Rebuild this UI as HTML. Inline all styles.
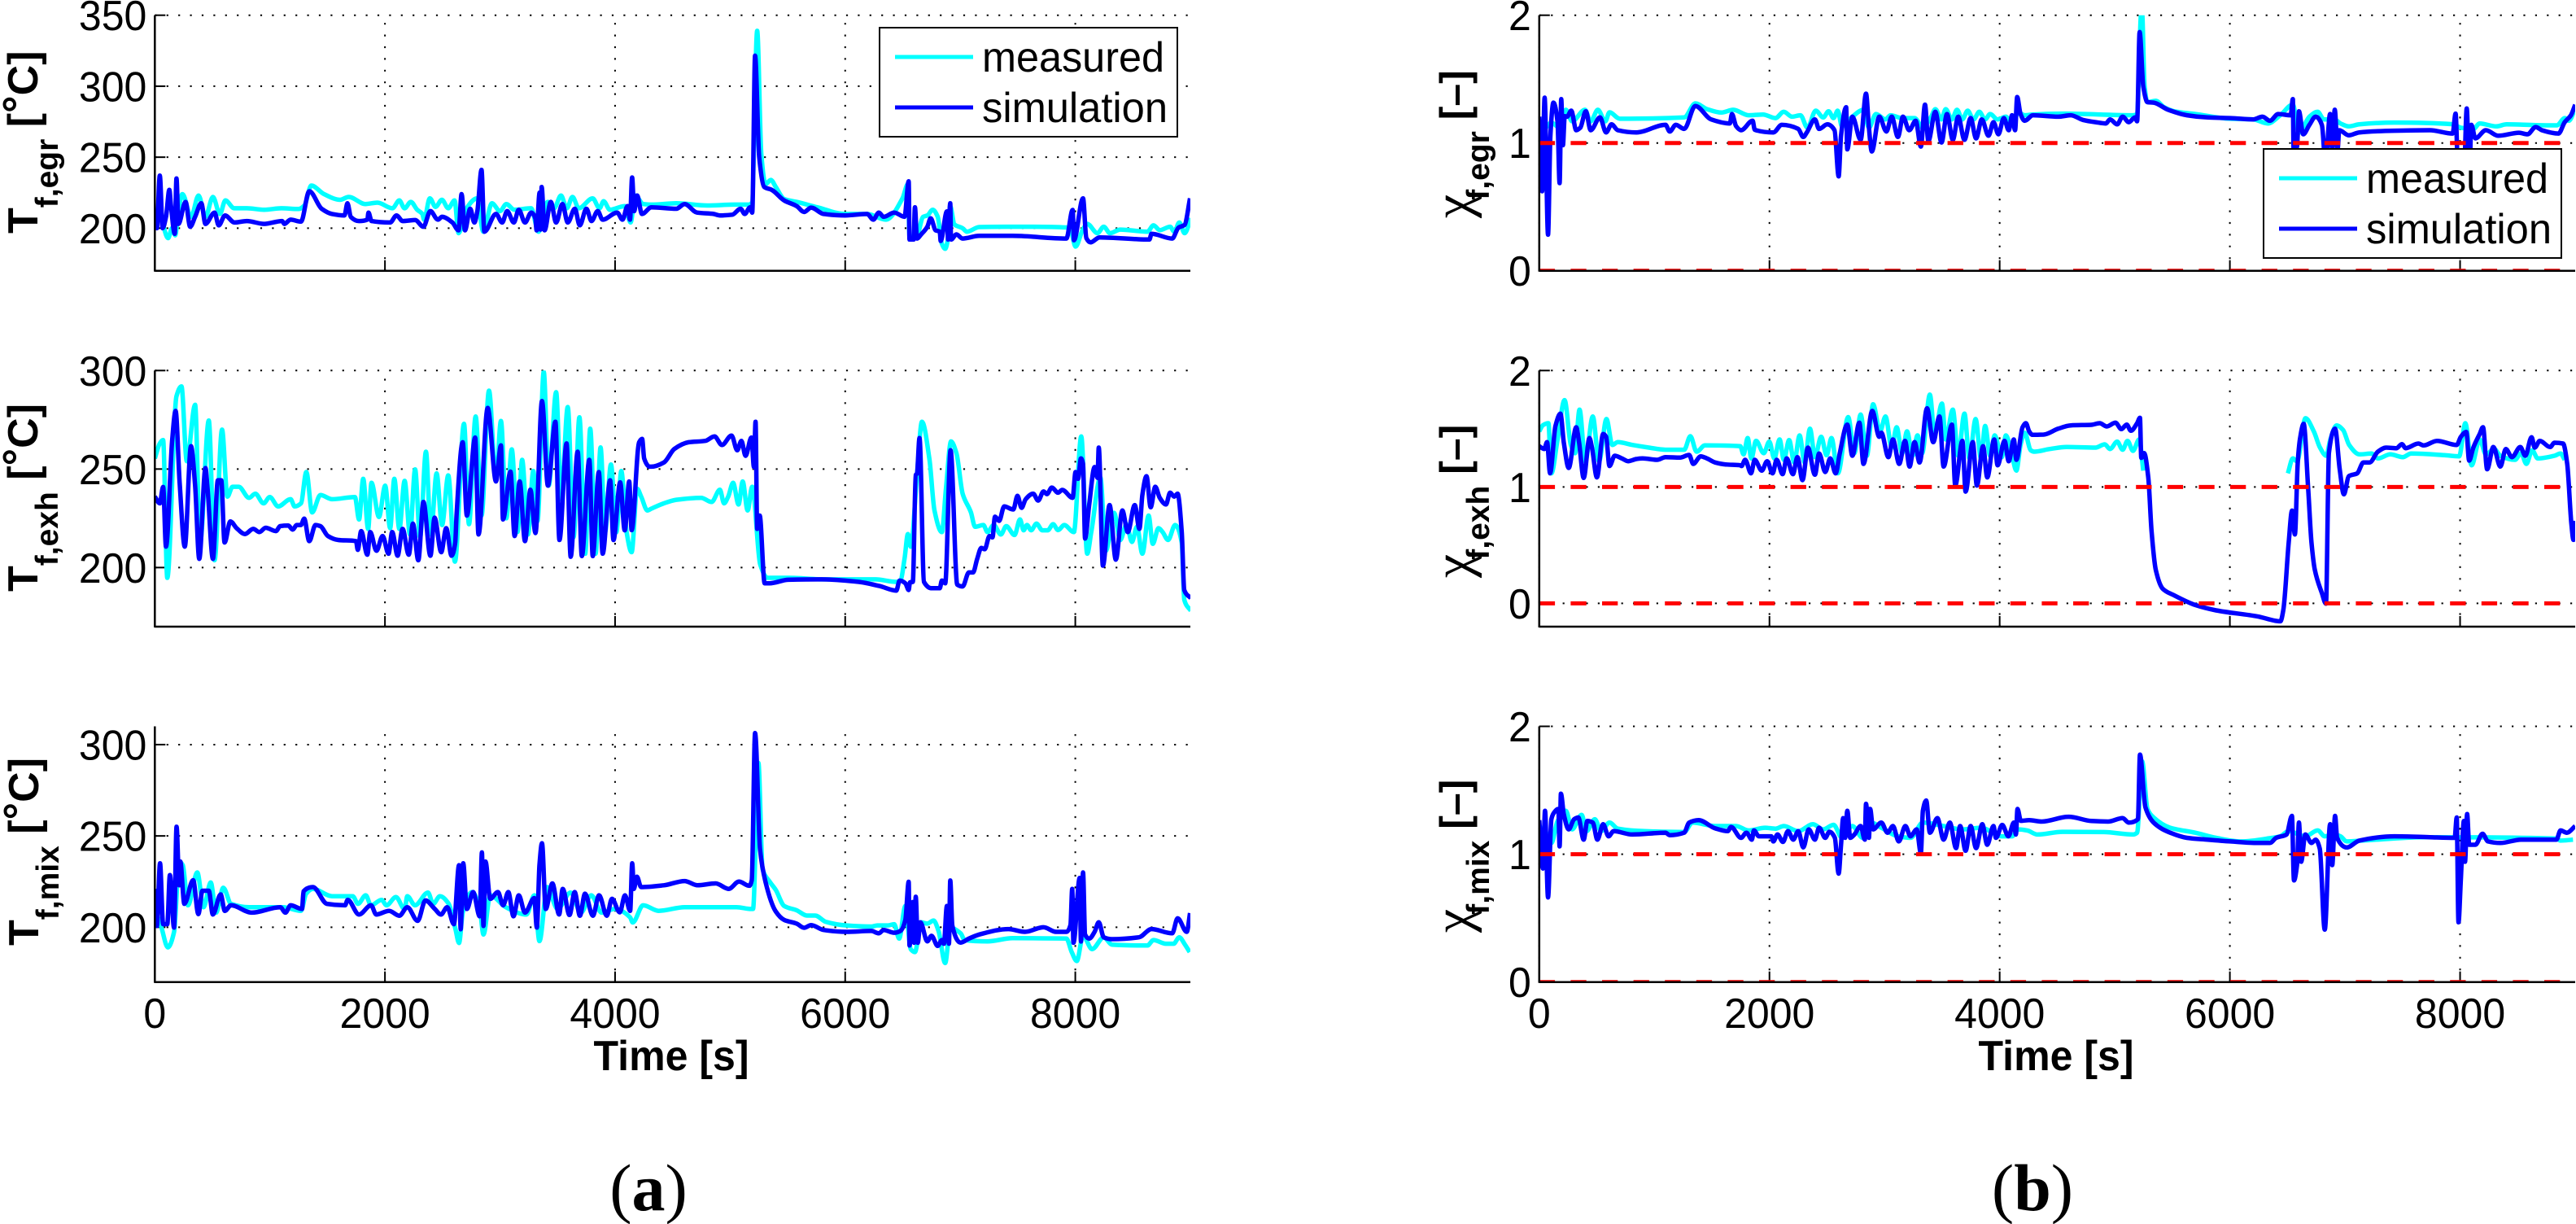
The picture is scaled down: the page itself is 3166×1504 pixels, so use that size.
<!DOCTYPE html>
<html lang="en">
<head>
<meta charset="utf-8">
<title>Measured vs simulation: temperature and conversion ratio</title>
<style>
html,body{margin:0;padding:0;background:#fff;}
svg{display:block;}
text{fill:#000;font-family:"Liberation Sans",sans-serif;}
</style>
</head>
<body>
<svg id="chart" xmlns="http://www.w3.org/2000/svg" width="3166" height="1504" viewBox="0 0 3166 1504"></svg>
<script>
const xTicks = [0,2000,4000,6000,8000];
const xTickLabels = ['0','2000','4000','6000','8000'];
const tempEgrTicks = [200,250,300,350];
const tempExhTicks = [200,250,300];
const tempMixTicks = [200,250,300];
const chiTicks = [0,1,2];
const legendLabels = ['measured','simulation'];
const chiReferenceLevels = [0,1];

const egrTempMeasuredTime = [
0,18,60,115,150,177,205,240,315,380,
440,505,565,613,690,800,950,1100,1250,1300,
1360,1470,1610,1685,1830,1935,2065,2125,2170,2225,
2280,2325,2340,2390,2440,2495,2550,2605,2640,2710,
2800,2855,2930,3000,3055,3125,3270,3335,3415,3470,
3530,3580,3630,3685,3805,3865,3900,3955,4085,4135,
4175,4245,4316,4532,4800,5037,5163,5190,5235,5271,
5307,5354,5397,5470,5578,5758,6000,6190,6353,6498,
6545,6560,6624,6678,6715,6761,6804,6840,6869,6894,
6912,6949,7020,7057,7165,7400,7600,7922,7965,8002,
8065,8103,8193,8247,8301,8391,8626,8680,8734,8824,
8860,8904,8950,9005];
const egrTempMeasuredValue = [
205,212,205,193,200,195,212,224,208,223,
208,222,210,219.5,214,214,213,214,213.5,216,
230,224,220,222,217,218,214,219.5,214,218.5,
213,210,206,221,215,220,214,219.5,196.5,214,
221,197.5,217.5,212,217,213,214,197.5,218.5,214,
223,214,222,214,221,214,219,213,215.6,204,
223,217,216.6,217.5,216,216.6,216.6,218,339,252,
231,234,229,220.5,218.5,214.7,210,210,206,221,
231,193,195,208,209,213,208,189,185.5,193,
215.6,202.7,200,197.5,200.8,201,201,200.5,197,187,
199,203,196.5,201,196.5,199,197.5,202,198.6,201,
197.5,204,196.5,207];

const egrTempSimTime = [
0,18,43,68,97,126,140,173,188,205,
267,307,350,404,440,519,555,610,692,800,
950,1107,1125,1180,1270,1342,1450,1540,1648,1674,
1703,1775,1847,1857,1883,2045,2100,2154,2262,2334,
2395,2460,2496,2586,2640,2666,2695,2741,2777,2803,
2839,2864,2965,3019,3062,3120,3163,3217,3271,3307,
3318,3344,3352,3362,3387,3441,3488,3542,3589,3650,
3693,3751,3795,3849,3892,4018,4065,4108,4130,4148,
4166,4191,4234,4316,4532,4604,4712,4857,4911,5019,
5091,5127,5174,5192,5217,5253,5297,5362,5470,5578,
5643,5704,5812,6000,6190,6245,6292,6335,6426,6516,
6552,6559,6595,6606,6624,6660,6714,6743,6786,6822,
6830,6884,6894,6913,6920,6967,7020,7165,7454,7922,
7977,7988,8067,8096,8132,8211,8644,8662,8842,8897,
8950,8997];
const egrTempSimValue = [
208,200,237,200,208,227,216,196,235,203,
218.5,201,208,217.6,203,211,202,209,204,205,
203,205,203,206,204.6,226,213.7,210,209,217.5,
208,205,206,211,205,204,209,205,205.7,201,
212,206,208,204,198.5,224,198.5,213.7,204,212,
241,197.5,210,204,212,204,213,204,211,207,
198.5,225,199,229,198.5,218.5,204,217,204,213.7,
202,213.7,205,212,206,211,206,215.6,206,235.7,
212,223,210,214.7,213.7,217,211,210,209,209.5,
213.7,210,214.7,211,321.5,250,229,227,219.5,215.6,
211.4,214.5,210,209,210,206,211,208,211,208,
233,192,192,214.7,192.7,195.6,201,207,198.5,197.5,
191,211.8,192,217.5,192,195.6,192.7,194.6,194.6,192.7,
212.8,191.5,221,193,190,193.5,192,196,192.7,200.4,
202.3,221];

const exhTempMeasuredTime = [
0,43,72,108,188,231,278,350,393,469,
519,584,631,675,729,819,873,945,999,1071,
1180,1215,1270,1317,1367,1439,1540,1739,1775,1811,
1854,1883,1948,2002,2045,2081,2125,2171,2218,2262,
2305,2356,2399,2449,2496,2550,2608,2687,2730,2788,
2839,2904,2965,3008,3055,3102,3152,3192,3243,3289,
3326,3380,3423,3488,3531,3589,3639,3690,3740,3784,
3831,3874,3913,3964,4011,4054,4100,4144,4191,4227,
4281,4316,4424,4532,4748,4839,4911,4947,4983,5026,
5073,5109,5152,5192,5261,5325,5506,5830,6263,6444,
6480,6516,6545,6570,6624,6667,6732,6776,6840,6876,
6920,6967,7021,7093,7129,7201,7237,7291,7353,7400,
7472,7519,7551,7580,7616,7663,7713,7760,7807,7850,
7904,7987,8052,8103,8139,8218,8265,8337,8391,8445,
8492,8536,8583,8637,8673,8723,8759,8806,8868,8925,
8947,9005];
const exhTempMeasuredValue = [
255.4,263,264.7,194.8,287,292,254,282.6,212.7,274.6,
203.7,270,236,241,241,235.4,237.5,232.6,235.8,231,
234.7,231,232.6,248.5,228,236.8,234.7,235.8,224.4,245,
219.6,243,225.7,241.6,220,245,219.6,244,216.8,249.8,
215.4,258.8,216.8,247.8,221.6,246.8,203,273,222,276.7,
226.4,289.8,244,274.4,225,260,218,254.7,216.8,249,
223.7,299.4,241.6,289,234.7,281.5,215.4,276.3,207,270.5,
207,261,218,252.3,218,249,218,207.8,240,236,
229,229.9,232.6,234.4,235.4,233.3,239.5,232.6,236,243,
232,243.7,229,241,201.6,194.8,194.8,194,194,192.7,
193.4,204.4,217,210.6,247,274,255,229,218,240,
264,258,237.5,228,220.7,221.6,218,221.6,216.8,221,
216.5,224.4,218.9,221.6,218.9,222.3,218.9,218.9,222,219,
221.6,218,266.6,207,218,245.7,208.5,227.8,214,222,
213,220.7,207,226.4,212,220,218,214,221.6,212.7,
183.7,178];

const exhTempSimTime = [
0,43,72,97,151,180,216,260,314,350,
386,440,458,505,548,577,606,656,711,783,
855,909,963,1053,1089,1160,1198,1234,1270,1298,
1342,1396,1439,1504,1594,1749,1764,1793,1847,1872,
1926,1980,2031,2063,2110,2153,2207,2243,2290,2334,
2395,2431,2489,2532,2579,2611,2622,2676,2712,2784,
2813,2893,2965,3008,3026,3091,3127,3171,3217,3264,
3308,3365,3416,3481,3517,3578,3614,3675,3711,3776,
3806,3859,3892,3957,3986,4044,4084,4123,4144,4209,
4235,4253,4300,4316,4424,4515,4640,4784,4864,4929,
5012,5062,5098,5134,5185,5207,5221,5235,5257,5300,
5343,5506,5794,6119,6299,6444,6473,6523,6552,6563,
6588,6613,6624,6646,6685,6750,6822,6840,6869,6916,
6974,7021,7075,7111,7147,7183,7212,7255,7280,7302,
7338,7382,7461,7497,7533,7569,7634,7677,7724,7753,
7796,7850,7886,7977,8002,8024,8049,8067,8085,8121,
8168,8193,8204,8240,8298,8352,8409,8456,8517,8557,
8583,8619,8655,8695,8734,8788,8824,8860,8889,8925,
8947,9005];
const exhTempSimValue = [
236,232.6,240.9,210.6,265,279.5,243,210.6,261.6,241.6,
204.4,250.5,240,204.4,244.3,244.3,212.7,223.4,220,217,
219.6,218,220.2,218.5,221,221.3,219.3,221.6,221.6,224.8,
213.4,221.6,221,216,214,213.4,209,218.5,206.5,218,
208.5,216,207,218,206,219.6,206.5,222.3,203.7,233.3,
206,225.3,207.8,220,206,212.7,226.4,263.6,226.4,266,
216.8,281,243.7,262,224.4,248.7,216,243.7,213.4,239.5,
217.5,284.5,241.6,274,214,263,205.5,258.8,205.8,254.7,
205.8,248.5,207,244.3,214,243.2,218.9,243.7,219,263.6,
265.3,255.4,251.2,251.2,253.3,260.2,263.6,264.3,266.6,262.2,
267,259.5,264.3,256.7,266,251,274,219.6,226.4,192,
192,193.8,194,192.7,190.6,188.3,193.4,192,188.6,192.5,
192.7,247,247.7,265.7,192.7,189.5,189.5,193.4,192,259.5,
191.3,190.4,197.5,197.5,204.4,210,209.3,216,215.3,225.8,
223.7,231,229.5,236.4,230.3,234.7,237.5,234,238.6,237.3,
240.6,238,239.4,235.4,248.5,245,255.4,252.6,214.7,232,
251,245.5,260.9,201,231.7,204,229,218,231.7,219.6,
236.8,246.4,230.6,241,235.4,232,238,236,237.5,218,
188.6,184.4];

const mixTempMeasuredTime = [
0,54,113,167,212,243,288,369,423,486,
532,595,662,820,1113,1270,1315,1374,1540,1720,
1766,1833,1879,1970,2014,2095,2171,2194,2261,2374,
2419,2478,2554,2613,2644,2676,2757,2825,2856,2915,
3050,3230,3298,3343,3410,3500,3613,3703,3793,3883,
3996,4131,4153,4244,4379,4604,5055,5181,5199,5246,
5282,5343,5397,5470,5578,5668,5740,5830,6011,6227,
6280,6370,6426,6469,6523,6570,6606,6660,6714,6768,
6811,6869,6913,7003,7039,7237,7454,7922,7969,8013,
8067,8146,8247,8319,8626,8680,8788,8854,8904,8950,
8994];
const mixTempMeasuredValue = [
210,200.7,189,197.4,236,234,212,230,211,224.5,
208,221.6,212.8,211,211,209,218.4,221,217,217,
212.8,217.5,212,215,212,216.5,210,217,212,219,
212.8,217,212.8,198.9,191.4,208,219.3,210,196,217.5,
211,207,217.5,192.4,222,210,219,208,217.5,208,
210,205.4,202.6,212,209,211,211,210,210,290,
232,225,220.4,211.6,209.3,206.4,206.4,203,201,200.4,
201,201,201.7,193.8,211.6,187.9,186.4,202.7,202,203.7,
198,180.4,199.7,196.7,193,192.3,194,193.8,186.4,181.5,
195.3,188,194.5,190.5,190,193,191,191,194.5,190.8,
186.4];

const mixTempSimTime = [
0,18,45,72,108,131,167,189,212,221,
257,333,378,414,469,504,572,608,662,842,
1090,1135,1180,1279,1293,1374,1496,1653,1676,1775,
1879,1924,2036,2126,2194,2284,2352,2433,2487,2541,
2599,2644,2658,2680,2712,2766,2824,2843,2856,2874,
2915,2982,3027,3072,3117,3163,3217,3298,3320,3343,
3365,3397,3455,3514,3545,3604,3649,3694,3739,3807,
3861,3928,3973,4041,4086,4131,4149,4163,4190,4226,
4424,4604,4717,4874,4987,5077,5167,5188,5217,5260,
5307,5397,5470,5578,5643,5704,5812,6011,6227,6292,
6335,6426,6480,6523,6552,6559,6588,6599,6613,6631,
6653,6714,6750,6804,6840,6858,6884,6902,6913,6931,
7003,7075,7165,7418,7562,7724,7832,7922,7958,7973,
7984,8038,8049,8067,8085,8121,8168,8204,8247,8319,
8554,8662,8842,8889,8969,8997];
const mixTempSimValue = [
221,200.7,235,201.7,201.7,228.6,199.8,255,223,236,
212.8,225.8,207.2,220,220,207,218,209,212,208,
211,208,212,210,219.7,222,212.8,212,215,207,
212,207,209,206.3,211,203.5,214.7,210,207,211,
201.7,234,198.9,235,210,219.3,206,241,200.7,236,
215.6,219.3,212,219.3,206,217.5,208,216,199.8,234,
246,210,224,207,221,206.7,219.3,206.3,218.4,206.3,
217.5,206.3,215.6,208.2,217.5,209,235,221,227.7,222,
223,225.3,223,224,221,225,222.7,225.6,306.3,242.7,
224.9,208.6,204,202,199.7,201.2,198.5,197.5,198,196.7,
198.5,197,198,204,224.9,190,213.8,191.5,216.7,191.5,
202.7,192.3,195.3,189.8,193,191,211.6,191,225.6,201,
191.6,193.8,196,199,197.5,200,197.5,197.5,201.2,221,
191.5,227,192.2,230,196,193.8,197.5,202.7,194.5,193.5,
194.5,199,196.7,204.9,197.5,207.8];

const egrChiMeasuredTime = [
0,50,105,177,231,285,397,447,509,574,
610,700,1259,1356,1457,1583,1685,1818,1944,2052,
2124,2197,2269,2330,2402,2467,2514,2557,2593,2630,
2720,2817,2864,2925,3008,3052,3152,3261,3333,3405,
3441,3495,3531,3585,3629,3676,3722,3773,3823,3874,
3917,3982,4054,4108,4162,4217,4289,4545,5158,5194,
5230,5237,5259,5284,5356,5428,5518,5699,6000,6204,
6330,6438,6547,6600,6691,6763,6817,6907,6961,7033,
7124,7430,7935,8007,8116,8170,8314,8404,8657,8840,
8910,8945,9000];
const egrChiMeasuredValue = [
1.14,1.12,1.16,1.12,1.26,1.17,1.26,1.17,1.26,1.17,
1.24,1.19,1.2,1.31,1.265,1.238,1.26,1.217,1.223,1.195,
1.244,1.206,1.217,1.12,1.253,1.2,1.248,1.195,1.253,1.13,
1.206,1.26,1.12,1.227,1.185,1.217,1.195,1.195,1.12,1.206,
1.265,1.185,1.265,1.185,1.26,1.185,1.253,1.185,1.244,1.185,
1.227,1.185,1.206,1.14,1.238,1.217,1.223,1.23,1.217,1.227,
2.02,2.02,1.44,1.32,1.33,1.28,1.248,1.227,1.19,1.185,
1.153,1.217,1.3,1.08,1.206,1.244,1.185,1.185,1.153,1.13,
1.146,1.16,1.147,1.12,1.11,1.153,1.13,1.146,1.14,1.138,
1.195,1.174,1.27];

const egrChiSimTime = [
0,25,47,76,97,123,159,177,191,206,
221,242,278,321,357,404,447,527,581,628,
682,844,1097,1133,1187,1259,1356,1493,1656,1674,
1710,1753,1854,1872,2034,2107,2250,2294,2323,2395,
2431,2503,2565,2601,2622,2666,2676,2720,2792,2839,
2864,2889,2954,3016,3062,3116,3160,3214,3271,3315,
3351,3380,3441,3495,3542,3593,3640,3694,3748,3795,
3845,3903,3946,3989,4036,4079,4108,4134,4152,4181,
4217,4289,4509,4617,4725,4833,4923,4959,5021,5068,
5122,5176,5194,5216,5248,5284,5338,5464,5627,5807,
6005,6204,6283,6348,6420,6528,6547,6554,6583,6600,
6637,6691,6745,6799,6817,6824,6871,6889,6911,6936,
6950,7033,7124,7430,7737,7935,7961,7982,8033,8058,
8080,8098,8133,8224,8332,8512,8585,8657,8711,8855,
8909,8963,9000];
const egrChiSimValue = [
1.206,0.622,1.355,0.282,1.057,1.316,1.163,0.686,1.344,0.983,
1.21,1.206,1.253,1.1,1.12,1.248,1.1,1.2,1.083,1.146,
1.1,1.083,1.142,1.09,1.142,1.11,1.29,1.185,1.153,1.227,
1.132,1.1,1.174,1.104,1.083,1.142,1.11,1.047,1.08,1.185,
1.11,1.146,1.1,0.739,1.057,1.28,0.95,1.206,1.025,1.386,
1.12,0.934,1.206,1.09,1.206,1.047,1.206,1.1,1.174,0.972,
1.3,1.015,1.244,1.004,1.227,1.025,1.206,1.025,1.195,1.036,
1.185,1.057,1.163,1.068,1.195,1.1,1.217,1.1,1.36,1.227,
1.174,1.217,1.206,1.217,1.18,1.163,1.153,1.185,1.146,1.206,
1.163,1.2,1.17,1.868,1.44,1.32,1.316,1.26,1.217,1.2,
1.195,1.185,1.206,1.174,1.227,1.217,1.344,0.93,0.972,1.248,
1.068,1.142,1.206,1.142,0.95,0.739,1.227,0.95,1.26,0.95,
1.1,1.06,1.083,1.096,1.1,1.074,1.23,0.8,0.76,1.27,
0.74,1.142,1.036,1.1,1.057,1.08,1.068,1.125,1.1,1.074,
1.163,1.217,1.3];

const exhChiMeasuredTime = [
0,32,79,105,159,220,274,310,350,400,
465,519,584,635,682,808,952,1097,1259,1313,
1367,1439,1746,1775,1811,1843,1883,1951,1998,2042,
2088,2125,2171,2215,2262,2305,2352,2395,2449,2496,
2539,2594,2684,2738,2792,2846,2900,2961,3008,3062,
3105,3152,3195,3243,3286,3326,3394,3434,3499,3531,
3593,3640,3694,3737,3791,3838,3874,3917,3957,4018,
4054,4108,4145,4181,4217,4270,4299,4436,4580,4833,
4913,4959,5021,5068,5111,5158,5212,5248,5249,6504,
6547,6583,6657,6729,6783,6837,6873,6927,6983,7036,
7126,7232,7286,7394,7502,7575,7863,7992,8046,8100,
8170,8224,8296,8350,8477,8530,8576,8627,8674,8820,
8873,8909];
const exhChiMeasuredValue = [
1.478,1.53,1.548,1.117,1.408,1.746,1.361,1.29,1.664,1.22,
1.606,1.22,1.583,1.361,1.385,1.361,1.338,1.32,1.32,1.436,
1.303,1.357,1.35,1.28,1.42,1.245,1.396,1.29,1.39,1.245,
1.408,1.233,1.403,1.21,1.443,1.21,1.5,1.256,1.431,1.273,
1.42,1.117,1.6,1.29,1.622,1.268,1.71,1.478,1.606,1.338,
1.513,1.29,1.478,1.268,1.443,1.29,1.793,1.455,1.716,1.408,
1.664,1.268,1.63,1.245,1.583,1.245,1.524,1.268,1.443,1.256,
1.443,1.268,1.14,1.361,1.466,1.315,1.303,1.326,1.343,1.338,
1.366,1.326,1.39,1.32,1.396,1.31,1.408,1.14,null,1.117,
1.245,1.22,1.59,1.478,1.338,1.268,1.408,1.529,1.49,1.361,
1.28,1.287,1.245,1.28,1.256,1.287,1.273,1.263,1.548,1.186,
1.408,1.28,1.326,1.268,1.233,1.29,1.198,1.315,1.245,1.268,
1.287,1.233];

const exhChiSimTime = [
0,43,68,94,141,184,213,256,321,346,
386,436,458,501,555,581,610,656,718,772,
844,898,1024,1097,1223,1302,1338,1403,1457,1529,
1620,1746,1757,1789,1840,1872,1933,1980,2027,2063,
2114,2150,2204,2243,2287,2334,2395,2431,2485,2528,
2575,2611,2676,2720,2781,2817,2893,2954,2972,3033,
3073,3127,3178,3217,3261,3304,3369,3423,3477,3513,
3585,3614,3676,3704,3766,3802,3856,3892,3953,3982,
4043,4079,4123,4145,4199,4228,4256,4285,4382,4508,
4617,4797,4869,4931,5006,5057,5104,5140,5194,5219,
5230,5255,5291,5320,5356,5417,5518,5699,5880,6240,
6439,6464,6511,6540,6565,6590,6612,6641,6680,6709,
6738,6799,6835,6860,6914,6954,6990,7034,7106,7160,
7214,7286,7358,7448,7494,7527,7638,7683,7800,7971,
8007,8054,8079,8115,8170,8199,8235,8289,8350,8397,
8451,8523,8567,8621,8649,8692,8783,8820,8895,8931,
8967,8985,9003];
const exhChiSimValue = [
1.35,1.326,1.385,1.117,1.524,1.63,1.385,1.163,1.513,1.385,
1.077,1.42,1.338,1.082,1.455,1.431,1.18,1.268,1.245,1.221,
1.24,1.245,1.233,1.256,1.252,1.275,1.198,1.263,1.245,1.21,
1.193,1.186,1.18,1.233,1.117,1.233,1.14,1.221,1.117,1.233,
1.11,1.245,1.11,1.256,1.058,1.338,1.105,1.287,1.128,1.245,
1.117,1.291,1.536,1.268,1.552,1.198,1.653,1.431,1.466,1.256,
1.408,1.198,1.396,1.175,1.385,1.21,1.676,1.385,1.606,1.175,
1.536,1.012,1.396,0.96,1.385,1.012,1.35,1.082,1.408,1.186,
1.396,1.221,1.408,1.233,1.513,1.548,1.478,1.448,1.45,1.5,
1.529,1.534,1.548,1.52,1.552,1.497,1.536,1.483,1.548,1.594,
1.25,1.291,1.082,0.615,0.289,0.126,0.068,-0.014,-0.06,-0.112,
-0.154,-0.06,0.522,0.797,0.592,1.22,1.431,1.543,0.988,0.522,
0.289,0.09,-0.002,1.291,1.501,1.152,0.937,1.093,1.117,1.21,
1.21,1.303,1.338,1.333,1.368,1.333,1.373,1.357,1.396,1.361,
1.431,1.473,1.226,1.338,1.455,1.513,1.152,1.343,1.175,1.326,
1.256,1.343,1.268,1.427,1.338,1.396,1.343,1.38,1.373,1.198,
0.685,0.545,0.709];

const mixChiMeasuredTime = [
0,32,105,159,231,285,368,411,483,537,
610,682,916,1259,1331,1529,1710,1818,1962,2052,
2125,2250,2377,2467,2557,2630,2720,2810,2882,2972,
3116,3225,3333,3513,3676,3838,4018,4108,4162,4238,
4328,4545,4905,5158,5194,5237,5284,5338,5482,5699,
5880,6096,6366,6438,6510,6655,6763,6824,6907,6961,
7015,7142,7683,8837,8873,8981];
const mixChiMeasuredValue = [
1.18,1.207,1.088,1.26,1.34,1.194,1.308,1.18,1.274,1.18,
1.247,1.2,1.18,1.173,1.247,1.22,1.22,1.186,1.207,1.2,
1.22,1.18,1.234,1.194,1.23,1.128,1.22,1.128,1.247,1.207,
1.14,1.128,1.247,1.22,1.194,1.207,1.14,1.14,1.194,1.186,
1.154,1.175,1.173,1.154,1.168,1.726,1.354,1.287,1.207,1.168,
1.128,1.1,1.128,1.14,1.18,1.14,1.186,1.14,1.154,1.14,
1.1,1.106,1.133,1.122,1.106,1.114];

const mixChiSimTime = [
0,32,50,76,105,130,166,177,188,213,
256,303,339,386,418,465,505,555,602,646,
808,1097,1133,1259,1302,1385,1529,1638,1666,1753,
1800,1847,1865,1908,2016,2034,2070,2117,2161,2207,
2250,2294,2341,2395,2431,2485,2521,2568,2601,2622,
2640,2658,2676,2702,2738,2792,2828,2839,2864,2875,
2900,2972,3026,3073,3124,3181,3225,3279,3315,3333,
3362,3394,3459,3513,3567,3621,3657,3704,3748,3795,
3849,3892,3946,3968,4022,4076,4123,4141,4155,4184,
4256,4364,4599,4797,4941,5068,5122,5201,5219,5266,
5338,5482,5627,5807,6006,6240,6348,6402,6492,6539,
6557,6583,6600,6619,6655,6709,6745,6781,6824,6871,
6889,6914,6932,7015,7124,7430,7737,7953,7971,7986,
8007,8033,8043,8061,8079,8133,8195,8242,8350,8530,
8837,8873,8927,9000];
const mixChiSimValue = [
1.266,0.888,1.34,0.662,1.274,1.327,1.354,1.061,1.473,1.314,
1.194,1.274,1.287,1.114,1.26,1.247,1.114,1.234,1.14,1.18,
1.154,1.168,1.149,1.168,1.247,1.266,1.202,1.18,1.213,1.128,
1.168,1.114,1.186,1.14,1.14,1.1,1.154,1.096,1.18,1.114,
1.18,1.053,1.194,1.114,1.207,1.128,1.176,1.128,0.848,1.074,
1.282,1.128,1.34,1.128,1.154,1.22,1.114,1.394,1.128,1.354,
1.194,1.247,1.168,1.22,1.1,1.22,1.14,1.194,1.008,1.34,
1.42,1.168,1.282,1.114,1.247,1.048,1.22,1.027,1.22,1.048,
1.234,1.074,1.22,1.128,1.229,1.14,1.247,1.154,1.354,1.261,
1.266,1.255,1.293,1.26,1.255,1.282,1.247,1.274,1.779,1.367,
1.247,1.168,1.128,1.114,1.1,1.088,1.088,1.128,1.154,1.3,
0.795,0.915,1.247,0.941,1.154,1.088,1.114,1.043,0.41,1.234,
0.915,1.3,1.128,1.053,1.106,1.14,1.133,1.128,1.287,0.468,
0.808,1.26,0.941,1.314,1.074,1.074,1.16,1.1,1.088,1.114,
1.114,1.186,1.168,1.22];

const SVG_NS = 'http://www.w3.org/2000/svg';
const svg = document.getElementById('chart');
const X_MAX = 9000;

function mk(tag, parent) {
  const el = document.createElementNS(SVG_NS, tag);
  parent.appendChild(el);
  return el;
}
function setAll(el, props) {
  for (const k in props) el.setAttribute(k, props[k]);
}
function monotoneSegment(pts) {
  if (pts.length === 0) return '';
  let d = 'M' + pts[0][0].toFixed(1) + ' ' + pts[0][1].toFixed(1);
  const n = pts.length;
  const slope = [];
  for (let i = 0; i < n - 1; i++) {
    const h = pts[i + 1][0] - pts[i][0];
    slope.push(h > 0 ? (pts[i + 1][1] - pts[i][1]) / h : 0);
  }
  const tan = [];
  for (let i = 0; i < n; i++) {
    if (i === 0) tan.push(slope[0] || 0);
    else if (i === n - 1) tan.push(slope[n - 2] || 0);
    else {
      const m0 = slope[i - 1], m1 = slope[i];
      if (m0 * m1 <= 0) tan.push(0);
      else {
        const h0 = pts[i][0] - pts[i - 1][0], h1 = pts[i + 1][0] - pts[i][0];
        tan.push(3 * (h0 + h1) / ((2 * h1 + h0) / m0 + (h1 + 2 * h0) / m1));
      }
    }
  }
  for (let i = 0; i < n - 1; i++) {
    const h = pts[i + 1][0] - pts[i][0];
    const c1x = pts[i][0] + h / 3, c1y = pts[i][1] + tan[i] * h / 3;
    const c2x = pts[i + 1][0] - h / 3, c2y = pts[i + 1][1] - tan[i + 1] * h / 3;
    d += 'C' + c1x.toFixed(1) + ' ' + c1y.toFixed(1) + ' ' + c2x.toFixed(1) + ' ' + c2y.toFixed(1) + ' ' + pts[i + 1][0].toFixed(1) + ' ' + pts[i + 1][1].toFixed(1);
  }
  return d;
}
function linePath(times, values, xs, ys) {
  let d = '';
  let seg = [];
  const n = Math.min(times.length, values.length);
  for (let i = 0; i < n; i++) {
    if (values[i] === null) { d += monotoneSegment(seg); seg = []; continue; }
    seg.push([xs(times[i]), ys(values[i])]);
  }
  return d + monotoneSegment(seg);
}
function addTspan(textEl, str, size, weight, family, dy, dx) {
  const t = mk('tspan', textEl);
  t.textContent = str;
  setAll(t, {'font-size': size, 'font-weight': weight, 'font-family': family, dy: dy, dx: dx || 0});
  return t;
}
const SANS = '"Liberation Sans",sans-serif';
const SERIF = '"Liberation Serif","DejaVu Serif",serif';
const DIGIT_WIDTH = 27.8;

function buildPanel(p) {
  const g = mk('g', svg);
  
  
  const xs = t => p.left + t / X_MAX * (p.right - p.left);
  const ys = v => p.bottom - (v - p.yMin) / (p.yMax - p.yMin) * (p.bottom - p.top);

  const clip = mk('clipPath', g);
  clip.setAttribute('id', p.id + '-clip');
  const clipRect = mk('rect', clip);
  setAll(clipRect, {x: p.left, y: p.top, width: p.right - p.left, height: p.bottom - p.top});

  xTicks.forEach((t, i) => {
    const grid = mk('line', g);
    setAll(grid, {x1: xs(t), x2: xs(t), y1: p.bottom, y2: p.top, stroke: '#000', 'stroke-width': 2, 'stroke-dasharray': '2.2 12.2'});
    
    
    const tick = mk('line', g);
    setAll(tick, {x1: xs(t), x2: xs(t), y1: p.bottom, y2: p.bottom - 13, stroke: '#000', 'stroke-width': 2});
    
    
    if (p.showX) {
      const lab = mk('text', g);
      setAll(lab, {x: xs(t), y: 1263, 'text-anchor': 'middle', 'font-size': 52, textLength: xTickLabels[i].length * DIGIT_WIDTH, lengthAdjust: 'spacingAndGlyphs'});
      lab.textContent = xTickLabels[i];
      
      
    }
  });
  p.yTicks.forEach(v => {
    const grid = mk('line', g);
    setAll(grid, {x1: p.left, x2: p.right, y1: ys(v), y2: ys(v), stroke: '#000', 'stroke-width': 2, 'stroke-dasharray': '2.2 12.2'});
    
    
    const tick = mk('line', g);
    setAll(tick, {x1: p.left, x2: p.left + 13, y1: ys(v), y2: ys(v), stroke: '#000', 'stroke-width': 2});
    
    
    const lab = mk('text', g);
    setAll(lab, {x: p.left - 10, y: ys(v) + 18.5, 'text-anchor': 'end', 'font-size': 52, textLength: String(v).length * DIGIT_WIDTH, lengthAdjust: 'spacingAndGlyphs'});
    lab.textContent = String(v);
    
    
  });

  const measured = mk('path', g);
  setAll(measured, {d: linePath(p.mT, p.mV, xs, ys), fill: 'none', stroke: '#00ffff', 'stroke-width': 5.5, 'stroke-linejoin': 'round', 'clip-path': 'url(#' + p.id + '-clip)'});
  
  

  const sim = mk('path', g);
  setAll(sim, {d: linePath(p.sT, p.sV, xs, ys), fill: 'none', stroke: '#0000ff', 'stroke-width': 5.5, 'stroke-linejoin': 'round', 'clip-path': 'url(#' + p.id + '-clip)'});
  
  

  if (p.refLines) {
    chiReferenceLevels.forEach(level => {
      const ref = mk('line', g);
      setAll(ref, {x1: p.left, x2: p.right, y1: ys(level), y2: ys(level), stroke: '#ff0000', 'stroke-width': 5, 'stroke-dasharray': '19.3 19.3', 'clip-path': 'url(#' + p.id + '-clip)'});
      
      
    });
  }

  const yAxis = mk('line', g);
  setAll(yAxis, {x1: p.left, x2: p.left, y1: p.top, y2: p.bottom + 1, stroke: '#000', 'stroke-width': 2.5});
  
  
  const xAxis = mk('line', g);
  setAll(xAxis, {x1: p.left, x2: p.right, y1: p.bottom, y2: p.bottom, stroke: '#000', 'stroke-width': 2.5});
  
  

  const title = mk('text', g);
  setAll(title, {x: p.labelX, y: p.labelY, transform: 'rotate(-90 ' + p.labelX + ' ' + p.labelY + ')'});
  
  
  if (p.refLines) {
    addTspan(title, '\u03C7', 66, 'normal', SERIF, 0);
    addTspan(title, p.sub, 39, 'bold', SANS, 23, -7);
    addTspan(title, '\u00A0[\u2013]', 50, 'bold', SANS, -25);
  } else {
    addTspan(title, 'T', 52, 'bold', SANS, 0);
    addTspan(title, p.sub, 39, 'bold', SANS, 25);
    addTspan(title, '\u00A0[', 52, 'bold', SANS, -25);
    addTspan(title, '\u00B0', 54, 'bold', SANS, -5);
    addTspan(title, 'C]', 52, 'bold', SANS, 5);
  }
}

const panels = [
  {id:'temp-egr', left:190.3, right:1463, top:18.7, bottom:332.7, yMin:170, yMax:350, yTicks:tempEgrTicks, mT:egrTempMeasuredTime, mV:egrTempMeasuredValue, sT:egrTempSimTime, sV:egrTempSimValue, sub:'f,egr', labelX:46, labelY:287},
  {id:'temp-exh', left:190.3, right:1463, top:455.3, bottom:770, yMin:170, yMax:300, yTicks:tempExhTicks, mT:exhTempMeasuredTime, mV:exhTempMeasuredValue, sT:exhTempSimTime, sV:exhTempSimValue, sub:'f,exh', labelX:46, labelY:727},
  {id:'temp-mix', left:190.3, right:1463, top:892.5, bottom:1206.7, yMin:170, yMax:310, yTicks:tempMixTicks, mT:mixTempMeasuredTime, mV:mixTempMeasuredValue, sT:mixTempSimTime, sV:mixTempSimValue, sub:'f,mix', labelX:47, labelY:1162, showX:true},
  {id:'chi-egr', left:1891.8, right:3165, top:18.7, bottom:332.7, yMin:0, yMax:2, yTicks:chiTicks, mT:egrChiMeasuredTime, mV:egrChiMeasuredValue, sT:egrChiSimTime, sV:egrChiSimValue, sub:'f,egr', labelX:1807, labelY:268, refLines:true},
  {id:'chi-exh', left:1891.8, right:3165, top:455.3, bottom:770, yMin:-0.2, yMax:2, yTicks:chiTicks, mT:exhChiMeasuredTime, mV:exhChiMeasuredValue, sT:exhChiSimTime, sV:exhChiSimValue, sub:'f,exh', labelX:1807, labelY:710, refLines:true},
  {id:'chi-mix', left:1891.8, right:3165, top:892.5, bottom:1206.7, yMin:0, yMax:2, yTicks:chiTicks, mT:mixChiMeasuredTime, mV:mixChiMeasuredValue, sT:mixChiSimTime, sV:mixChiSimValue, sub:'f,mix', labelX:1807, labelY:1146, refLines:true, showX:true}
];
panels.forEach(buildPanel);

[825, 2527].forEach(cx => {
  const t = mk('text', svg);
  setAll(t, {x: cx, y: 1315, 'text-anchor': 'middle', 'font-size': 52, 'font-weight': 'bold', textLength: 191, lengthAdjust: 'spacingAndGlyphs'});
  t.textContent = 'Time [s]';
  
  
});

function buildLegend(x, y) {
  const g = mk('g', svg);
  
  
  const box = mk('rect', g);
  setAll(box, {x: x, y: y, width: 366, height: 134, fill: '#fff', stroke: '#000', 'stroke-width': 2});
  
  
  const colors = ['#00ffff', '#0000ff'];
  const widths = [224, 228];
  legendLabels.forEach((label, i) => {
    const yy = y + 36 + i * 62;
    const sw = mk('line', g);
    setAll(sw, {x1: x + 19, x2: x + 115, y1: yy, y2: yy, stroke: colors[i], 'stroke-width': 5});
    
    
    const t = mk('text', g);
    setAll(t, {x: x + 126, y: yy + 18, 'font-size': 52, textLength: widths[i], lengthAdjust: 'spacingAndGlyphs'});
    t.textContent = label;
    
    
  });
}
buildLegend(1081, 34);
buildLegend(2782, 183);

[[797, 'a'], [2498, 'b']].forEach(item => {
  const t = mk('text', svg);
  setAll(t, {x: item[0], y: 1487, 'text-anchor': 'middle'});
  
  
  addTspan(t, '(', 82, 'normal', SERIF, 0);
  addTspan(t, item[1], 82, 'bold', SERIF, 0);
  addTspan(t, ')', 82, 'normal', SERIF, 0);
});
</script>
</body>
</html>
